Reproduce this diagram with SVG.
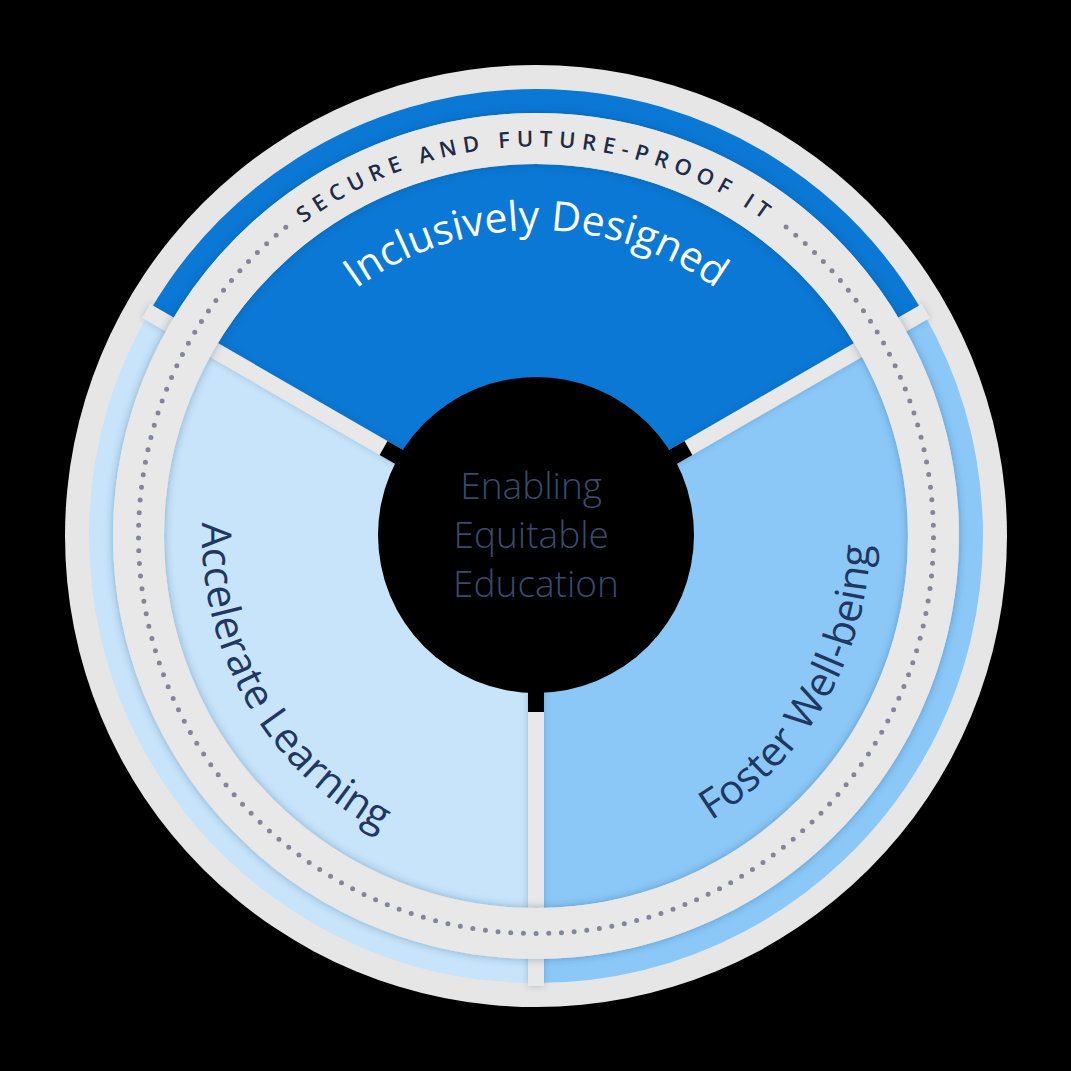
<svg xmlns="http://www.w3.org/2000/svg" xmlns:xlink="http://www.w3.org/1999/xlink" width="1071" height="1071" viewBox="0 0 1071 1071">
  <style>
    .sep { stroke: #e8e8e8; stroke-width: 16; fill: none; }
    .stub { stroke: #000; stroke-width: 16; }
    .band { fill: none; stroke-width: 24; }
    .lbl { font-family: "Open Sans", "Noto Sans", "Liberation Sans", sans-serif; font-size: 41px; }
    .ring-text { font-family: "Open Sans", "Noto Sans", "Liberation Sans", sans-serif; font-size: 22px; font-weight: 600; fill: #1e2b48; letter-spacing: 6.5px; }
    .center { font-family: "Open Sans", "Noto Sans", "Liberation Sans", sans-serif; font-size: 37px; font-weight: 300; fill: #3a4a6d; }
  </style>
  <defs>
    <filter id="shadow" x="-10%" y="-10%" width="120%" height="120%">
      <feDropShadow dx="0" dy="0" stdDeviation="4" flood-color="#1a3a66" flood-opacity="0.35"/>
    </filter>
    <filter id="shadowSoft" x="-10%" y="-10%" width="120%" height="120%">
      <feDropShadow dx="0" dy="0" stdDeviation="3" flood-color="#1a3a66" flood-opacity="0.25"/>
    </filter>
    <path id="pSecure" d="M170.0,402.8 A389.5,389.5 0 0 1 902.0,402.8"/>
    <path id="pTop" d="M248.5,431.3 A306,306 0 0 1 823.5,431.3"/>
    <path id="pLeft" d="M280.1,321.3 A334,334 0 0 0 594.0,864.9"/>
    <path id="pRight" d="M478.0,864.9 A334,334 0 0 0 791.9,321.3"/>
  </defs>

  <rect width="1071" height="1071" fill="#000"/>

  <g id="outer-ring">
    <circle cx="536" cy="536" r="471" fill="#e6e6e6"/>
    <path class="band" stroke="#0a78d4" d="M159.3,318.5 A435,435 0 0 1 912.7,318.5"/>
    <path class="band" stroke="#8bc8f8" d="M912.7,318.5 A435,435 0 0 1 536,971"/>
    <path class="band" stroke="#c7e4fb" d="M536,971 A435,435 0 0 1 159.3,318.5"/>
  </g>

  <g id="segment-inclusively-designed">
    <path fill="#0a78d4" d="M536,536 L213.8,350 A372,372 0 0 1 858.2,350 Z"/>
  </g>
  <g id="segment-foster-well-being">
    <path fill="#8bc8f8" d="M536,536 L858.2,350 A372,372 0 0 1 536,908 Z"/>
  </g>
  <g id="segment-accelerate-learning">
    <path fill="#c7e4fb" d="M536,536 L536,908 A372,372 0 0 1 213.8,350 Z"/>
  </g>

  <g id="connectors">
    <g filter="url(#shadowSoft)">
      <line class="sep" x1="536" y1="536" x2="146.3" y2="311"/>
      <line class="sep" x1="536" y1="536" x2="925.7" y2="311"/>
      <line class="sep" x1="536" y1="536" x2="536" y2="986"/>
    </g>
  </g>

  <g id="secure-ring">
    <circle cx="536" cy="536" r="397.5" fill="none" stroke="#e8e8e8" stroke-width="51" filter="url(#shadow)"/>
    <path d="M786.1,227.1 A397.5,397.5 0 1 1 285.9,227.1" fill="none" stroke="#85859a" stroke-width="5" stroke-linecap="round" stroke-dasharray="0 12.7"/>
    <text class="ring-text"><textPath xlink:href="#pSecure" href="#pSecure" startOffset="50%" text-anchor="middle">SECURE AND FUTURE-PROOF IT</textPath></text>
  </g>

  <g id="center">
    <line class="stub" x1="536" y1="536" x2="383.6" y2="448"/>
    <line class="stub" x1="536" y1="536" x2="688.4" y2="448"/>
    <line class="stub" x1="536" y1="536" x2="536" y2="712"/>
    <circle cx="536" cy="535" r="158" fill="#000"/>
    <text class="center" text-anchor="middle">
      <tspan x="536" y="499">Enabling</tspan>
      <tspan x="536" y="548">Equitable</tspan>
      <tspan x="536" y="597">Education</tspan>
    </text>
  </g>

  <g id="labels">
    <text class="lbl" fill="#ffffff"><textPath xlink:href="#pTop" href="#pTop" startOffset="50%" text-anchor="middle">Inclusively Designed</textPath></text>
    <text class="lbl" fill="#1f3761"><textPath xlink:href="#pLeft" href="#pLeft" startOffset="50%" text-anchor="middle">Accelerate Learning</textPath></text>
    <text class="lbl" fill="#1f3761"><textPath xlink:href="#pRight" href="#pRight" startOffset="50%" text-anchor="middle">Foster Well-being</textPath></text>
  </g>
</svg>
